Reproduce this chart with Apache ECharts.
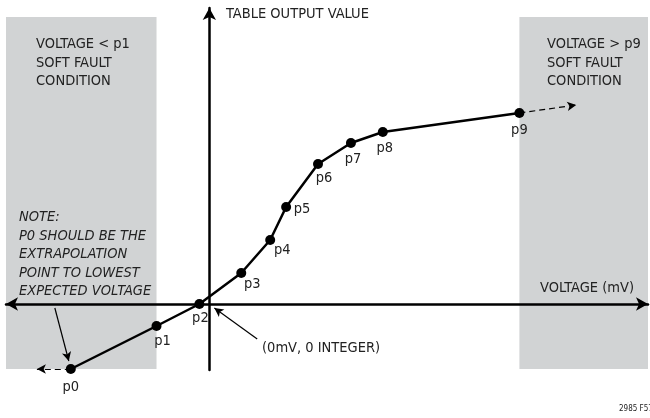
<!DOCTYPE html>
<html><head><meta charset="utf-8">
<script src="https://cdn.jsdelivr.net/npm/echarts@6/dist/echarts.min.js"></script>
<style>html,body{margin:0;padding:0;background:#fff}#c{width:650px;height:418px}</style>
</head><body><div id="c"></div>
<script>
// Table points: voltage (mV, arbitrary scale) vs table output value
const pointNames = ['p0','p1','p2','p3','p4','p5','p6','p7','p8','p9'];
const voltage = [-139, -53, -10, 32, 61, 77, 109, 142, 174, 311];
const outputValue = [-65, -22, 0, 31, 64, 97, 140, 161, 172, 191];
// extrapolation ends
const extrapLow = [-173, -65];
const extrapHigh = [368, 199];
// soft fault regions (voltage ranges)
const faultLow = [-204, -53];
const faultHigh = [311, 440];

// layout: label offsets per point (px)
const labelOffsets = [[0,18],[6,15],[1,14],[11,11],[12,10],[16,2],[6,14],[2,16],[2,16],[0,17]];

const FONT = '"Liberation Sans Narrow","DejaVu Sans Condensed",sans-serif';
const chart = echarts.init(document.getElementById('c'));
const data = voltage.map((v,i)=>({
  value:[v,outputValue[i]], name: pointNames[i],
  label:{show:true, formatter: pointNames[i], position:'inside', offset: labelOffsets[i],
         color:'#222', fontSize:14.5, fontFamily:FONT}
}));
chart.setOption({
  animation:false,
  grid:{left:6,right:2,top:8,bottom:48},
  xAxis:{type:'value',min:-204,max:440,z:10,splitLine:{show:false},axisTick:{show:false},axisLabel:{show:false},
    axisLine:{onZero:true,lineStyle:{color:'#000',width:2.5},symbol:['arrow','arrow'],symbolSize:[10,12]}},
  yAxis:{type:'value',min:-66,max:296,z:10,splitLine:{show:false},axisTick:{show:false},axisLabel:{show:false},
    axisLine:{onZero:true,lineStyle:{color:'#000',width:2.5},symbol:['none','arrow'],symbolSize:[10,12]}},
  series:[
    {type:'line',clip:false,z:1,data:[],
     markArea:{silent:true,itemStyle:{color:'#d1d3d4'},
       data:[[{coord:[faultLow[0],287]},{coord:[faultLow[1],-65]}],
             [{coord:[faultHigh[0],287]},{coord:[faultHigh[1],-65]}]]}},
    {type:'line',clip:false,z:15,data:data,symbol:'circle',symbolSize:10,
     lineStyle:{color:'#000',width:2.5},itemStyle:{color:'#000'},
     markLine:{silent:true,symbol:['none','arrow'],symbolSize:[7,9],label:{show:false},
       lineStyle:{color:'#000',width:1.2,type:[6,4]},
       data:[
         [{coord:[voltage[9],outputValue[9]]},{coord:extrapHigh}],
         [{coord:[voltage[0],outputValue[0]]},{coord:extrapLow}],
         [{coord:[-155,-4],lineStyle:{type:'solid',width:1.2}},{coord:[-141,-57]}],
         [{coord:[48,-35],lineStyle:{type:'solid',width:1.2}},{coord:[5,-4]}]
       ]}}
  ],
  graphic:[
    {type:'text',z:100,left:36,top:35,style:{text:'VOLTAGE < p1\nSOFT FAULT\nCONDITION',font:'14.5px '+FONT,fill:'#222',lineHeight:18.5}},
    {type:'text',z:100,left:547,top:35,style:{text:'VOLTAGE > p9\nSOFT FAULT\nCONDITION',font:'14.5px '+FONT,fill:'#222',lineHeight:18.5}},
    {type:'text',z:100,left:19,top:208,style:{text:'NOTE:\nP0 SHOULD BE THE\nEXTRAPOLATION\nPOINT TO LOWEST\nEXPECTED VOLTAGE',font:'italic 14.5px '+FONT,fill:'#222',lineHeight:18.5}},
    {type:'text',z:100,left:226,top:7,style:{text:'TABLE OUTPUT VALUE',font:'14.5px '+FONT,fill:'#222'}},
    {type:'text',z:100,left:540,top:281,style:{text:'VOLTAGE (mV)',font:'14.5px '+FONT,fill:'#222'}},
    {type:'text',z:100,left:262,top:341,style:{text:'(0mV, 0 INTEGER)',font:'14.5px '+FONT,fill:'#222'}},
    {type:'text',z:100,left:619,top:405,style:{text:'2985 F57',font:'8px '+FONT,fill:'#222'}}
  ]
});
</script></body></html>
